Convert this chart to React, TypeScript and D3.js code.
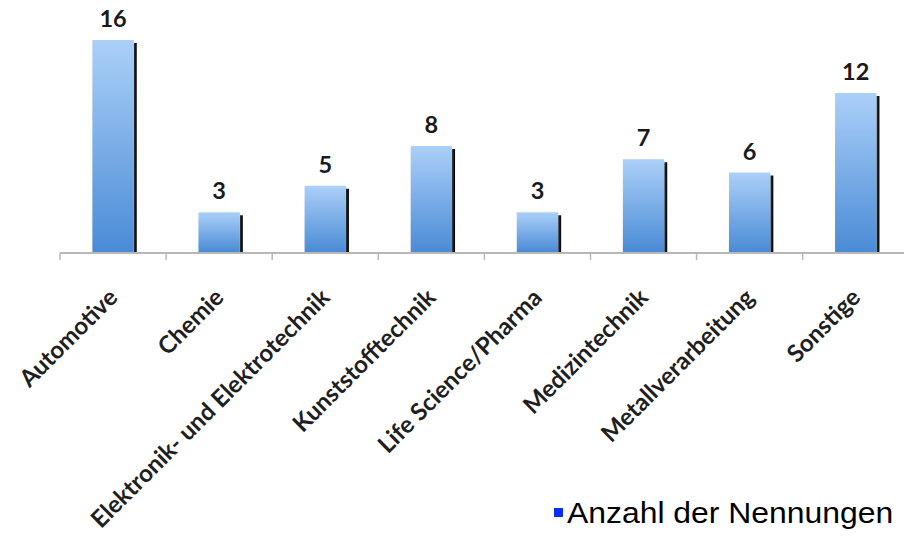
import React from "react";
import * as d3 from "d3";

const categories = [
  "Automotive",
  "Chemie",
  "Elektronik- und Elektrotechnik",
  "Kunststofftechnik",
  "Life Science/Pharma",
  "Medizintechnik",
  "Metallverarbeitung",
  "Sonstige",
];
const values = [16, 3, 5, 8, 3, 7, 6, 12];
const seriesName = "Anzahl der Nennungen";

const W = 904;
const H = 539;
const axisY = 252;
const left = 60;
const step = 106.1;

export default function App() {
  const x = d3
    .scaleBand<string>()
    .domain(categories)
    .range([left, left + step * categories.length])
    .paddingInner(0.61)
    .paddingOuter(0.305);
  const y = d3.scaleLinear().domain([0, 16]).range([axisY, 40]);
  const bw = x.bandwidth();
  const stepW = x.step();
  const tickXs = d3.range(categories.length + 1).map((i) => left + i * stepW);
  const legX = 567;
  const sx = 1.1;

  return (
    <svg
      width={W}
      height={H}
      style={{ position: "absolute", left: 0, top: 0, background: "#fff" }}
    >
      <defs>
        <linearGradient id="barGrad" x1="0" y1="0" x2="0" y2="1">
          <stop offset="0%" stopColor="#abd0f8" />
          <stop offset="100%" stopColor="#4a8bd6" />
        </linearGradient>
        <linearGradient id="shadowGrad" x1="0" y1="0" x2="1" y2="0">
          <stop offset="0%" stopColor="#333" />
          <stop offset="100%" stopColor="#000" />
        </linearGradient>
      </defs>
      {categories.map((c, i) => {
        const bx = x(c)!;
        const top = y(values[i]);
        return (
          <g key={c}>
            <rect
              x={bx + bw}
              y={top + 3}
              width={3}
              height={axisY - top - 3}
              fill="url(#shadowGrad)"
            />
            <rect
              x={bx}
              y={top}
              width={bw}
              height={axisY - top}
              fill="url(#barGrad)"
            />
            <text
              x={bx + bw / 2}
              y={top - 13}
              textAnchor="middle"
              fontFamily="Lato, 'Open Sans', sans-serif"
              fontWeight={700}
              fontSize={23.5}
              fill="#1a1a1a"
            >
              {values[i]}
            </text>
          </g>
        );
      })}
      <line
        x1={left}
        x2={W}
        y1={axisY + 1}
        y2={axisY + 1}
        stroke="#b8b8b8"
        strokeWidth={2}
      />
      {tickXs.map((tx, i) => (
        <line
          key={i}
          x1={tx}
          x2={tx}
          y1={axisY + 1}
          y2={axisY + 8}
          stroke="#b8b8b8"
          strokeWidth={1.5}
        />
      ))}
      {categories.map((c) => {
        const cx = x(c)! + bw / 2 + 6;
        const cy = 299;
        return (
          <text
            key={c}
            x={cx}
            y={cy}
            transform={`rotate(-45, ${cx}, ${cy})`}
            textAnchor="end"
            fontFamily="Lato, 'Open Sans', sans-serif"
            fontWeight={700}
            fontSize={24}
            fill="#1f1f1f"
          >
            {c}
          </text>
        );
      })}
      <rect x={554} y={508} width={9} height={9} fill="#0a2dff" />
      <g transform={`translate(${legX},0) scale(${sx},1)`}>
        <text
          x={0}
          y={523}
          fontFamily="'Liberation Sans', Arial, sans-serif"
          fontSize={29}
          fill="#000"
        >
          {seriesName}
        </text>
      </g>
    </svg>
  );
}
